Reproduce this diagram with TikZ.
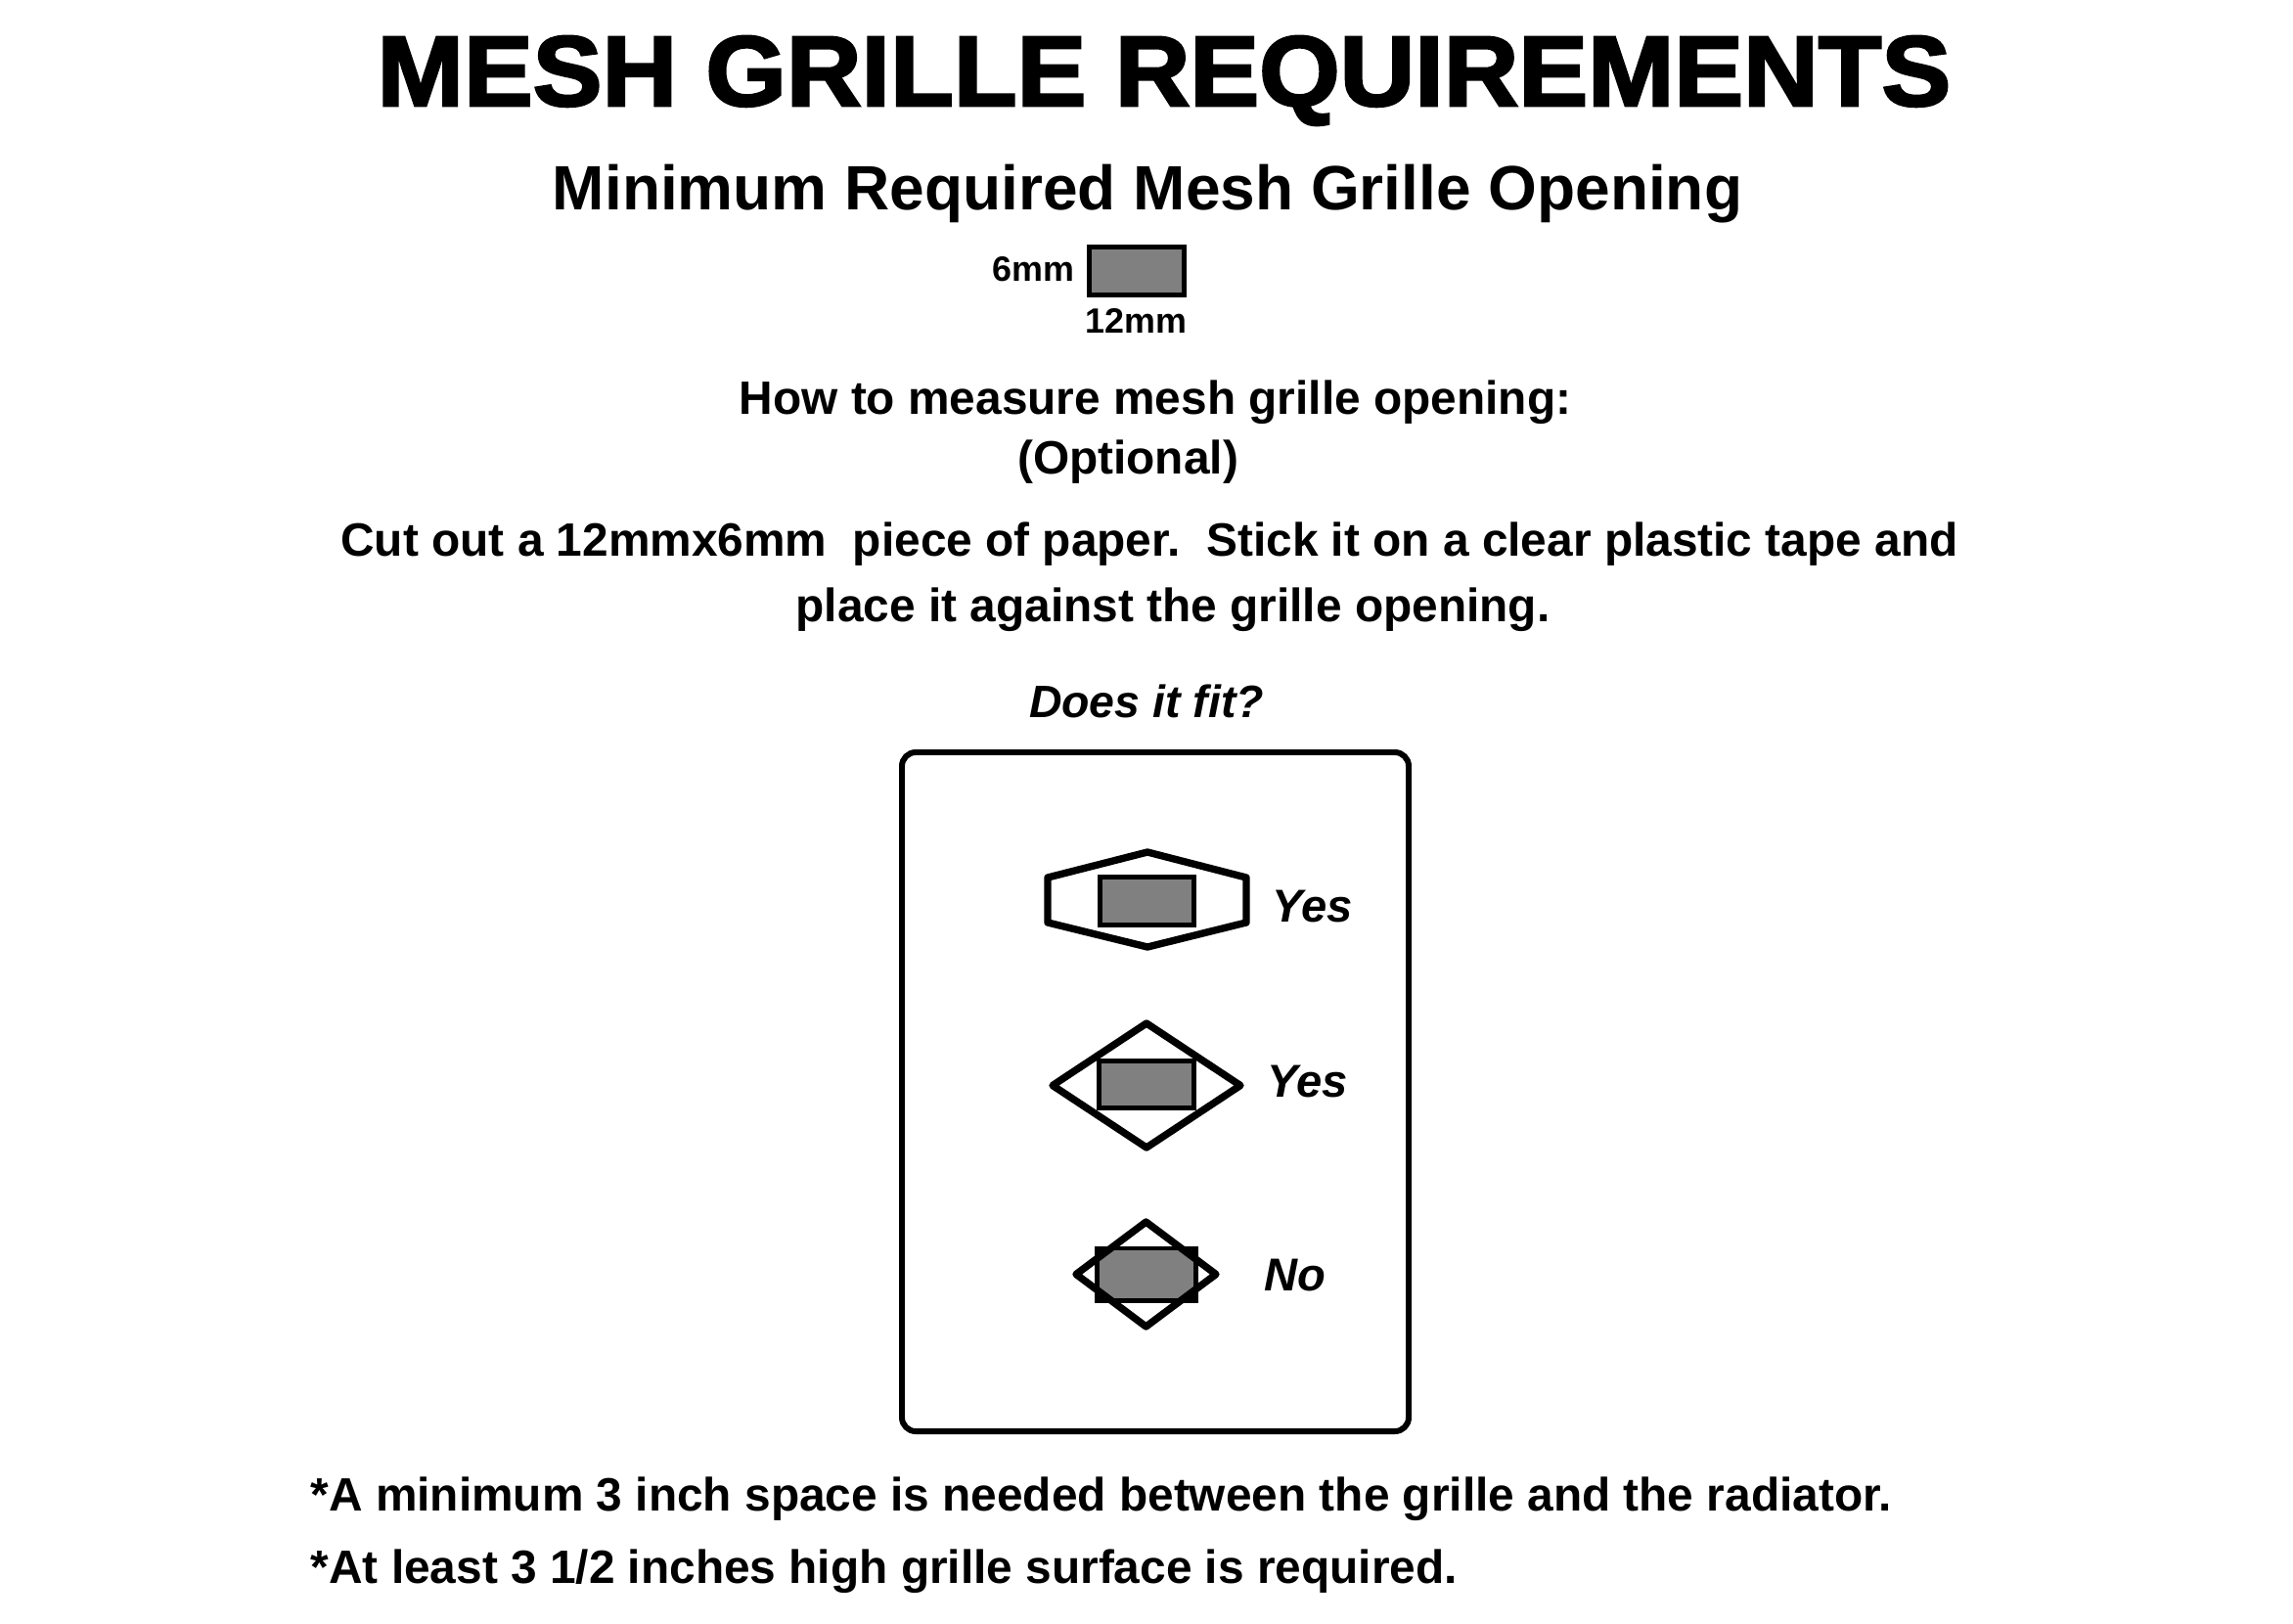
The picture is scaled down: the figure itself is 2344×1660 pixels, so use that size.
\documentclass[tikz,border=0pt]{standalone}
\usepackage{fontspec}
\setmainfont{Liberation Sans}
\newfontfamily\heavyfont[FakeBold=2.5]{Liberation Sans Bold}
\usepackage{tikz,graphicx}
\definecolor{paper}{HTML}{808080}
\tikzset{
  txt/.style={inner sep=0pt,anchor=base,font=\bfseries\fontsize{13.6}{16}\selectfont},
  ttl/.style={txt,font=\heavyfont\fontsize{29}{34}\selectfont},
  sub/.style={txt,font=\bfseries\fontsize{18.2}{22}\selectfont},
  dim/.style={txt,font=\bfseries\fontsize{10.2}{12}\selectfont},
  ask/.style={txt,font=\bfseries\itshape\fontsize{13.2}{15}\selectfont},
  ans/.style={txt,anchor=base west,font=\bfseries\itshape\fontsize{13.4}{16}\selectfont},
  piece/.style={draw,fill=paper,line width=1.42pt,minimum width=0.96cm,minimum height=0.48cm,inner sep=0pt},
  hole/.style={line width=2.1pt,line join=round},
}
\begin{document}
\begin{tikzpicture}[x=0.01cm,y=-0.01cm]
  \useasboundingbox (0,0) rectangle (2344,1660);
  \node[ttl] (head) at (1190,108) {\scalebox{1.04}[1]{MESH GRILLE REQUIREMENTS}};
  \node[sub] (min) at (1173,214) {Minimum Required Mesh Grille Opening};
  \node[piece] (p0) at (1162,277) {};
  \node[dim,anchor=base east] (h6) at (1099,287) {6mm};
  \node[dim,anchor=base west] (w12) at (1109,340) {12mm};
  \node[txt] (how) at (1181,423) {How to measure mesh grille opening:};
  \node[txt] (opt) at (1153,484) {(Optional)};
  \node[txt] (cut1) at (1175,568) {Cut out a 12mmx6mm\ \ piece of paper.\ \ Stick it on a clear plastic tape and};
  \node[txt] (cut2) at (1199,635) {place it against the grille opening.};
  \node[ask] (fit) at (1172,733) {Does it fit?};
  \draw[line width=1.7pt,rounded corners=4pt] (922,769) rectangle (1440,1463);
  % wide hexagon
  \draw[hole] (1071,897) -- (1173,871) -- (1274,897) -- (1274,943) -- (1173,968) -- (1071,943) -- cycle;
  \node[piece] (p1) at (1172.5,921) {};
  \node[ans] (y1) at (1300,942) {Yes};
  % diamond
  \draw[hole] (1076,1109.5) -- (1172,1046) -- (1268,1109.5) -- (1172,1173) -- cycle;
  \node[piece] (p2) at (1172,1108.5) {};
  \node[ans] (y2) at (1295,1121) {Yes};
  % small diamond
  \node[piece,fill=black] (p3) at (1172,1302.5) {};
  \begin{scope}
    \clip (1100,1302.5) -- (1171.5,1249) -- (1243,1302.5) -- (1171.5,1356) -- cycle;
    \fill[paper] (p3.south west) rectangle (p3.north east);
  \end{scope}
  \draw[line width=1.42pt] (p3.south west) rectangle (p3.north east);
  \draw[hole] (1100,1302.5) -- (1171.5,1249) -- (1243,1302.5) -- (1171.5,1356) -- cycle;
  \node[ans] (n3) at (1292,1319) {No};
  \node[txt,anchor=base west] (req1) at (317,1544) {*A minimum 3 inch space is needed between the grille and the radiator.};
  \node[txt,anchor=base west] (req2) at (317,1618) {*At least 3 1/2 inches high grille surface is required.};
\end{tikzpicture}
\end{document}
